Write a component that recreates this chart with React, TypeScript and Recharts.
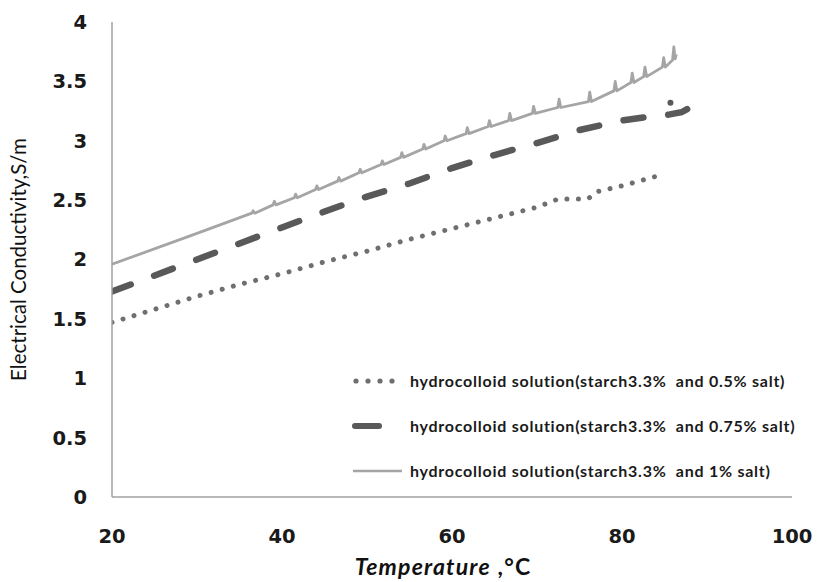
import { LineChart, Line, XAxis, YAxis } from 'recharts'

// [temperature °C, conductivity S/m]
const saltHalfPct: [number, number][] = [
  [20, 1.47], [25, 1.58], [30, 1.69], [35, 1.79], [40, 1.88], [45, 1.98],
  [50, 2.07], [55, 2.17], [60, 2.26], [65, 2.35], [70, 2.44], [72.5, 2.51],
  [74, 2.51], [76, 2.51], [77, 2.57], [80, 2.62], [84, 2.7],
]

const saltThreeQuarterPct: [number, number][] = [
  [20, 1.73], [30, 2.0], [40, 2.27], [46, 2.43], [50, 2.53], [55, 2.64],
  [60, 2.77], [65, 2.88], [70, 2.98], [75, 3.09], [80, 3.17], [84, 3.21],
  [85.5, 3.22], [87, 3.24], [88, 3.28], [89, 3.28],
]

// the lone stray point above the dashed series near 86 °C
const saltThreeQuarterStray: [number, number][] = [[85.7, 3.32]]

const saltOnePct: [number, number][] = [
  [20, 1.96], [30, 2.22],
  [36.45, 2.39], [36.6, 2.41], [36.8, 2.39],
  [38.95, 2.46], [39.1, 2.49], [39.3, 2.46],
  [41.45, 2.52], [41.6, 2.55], [41.8, 2.52],
  [43.95, 2.59], [44.1, 2.62], [44.3, 2.59],
  [46.55, 2.66], [46.7, 2.69], [46.9, 2.66],
  [49.05, 2.73], [49.2, 2.76], [49.4, 2.73],
  [51.65, 2.8], [51.8, 2.83], [52.0, 2.8],
  [53.95, 2.86], [54.1, 2.9], [54.3, 2.86],
  [56.55, 2.93], [56.7, 2.97], [56.9, 2.93],
  [59.05, 3.0], [59.2, 3.04], [59.4, 3.0],
  [61.65, 3.06], [61.8, 3.11], [62.0, 3.06],
  [64.25, 3.12], [64.4, 3.17], [64.6, 3.12],
  [66.65, 3.17], [66.8, 3.23], [67.0, 3.17],
  [69.45, 3.23], [69.6, 3.29], [69.8, 3.23],
  [72.45, 3.28], [72.6, 3.35], [72.8, 3.28],
  [76.05, 3.33], [76.2, 3.41], [76.4, 3.33],
  [79.05, 3.42], [79.2, 3.5], [79.4, 3.42],
  [81.05, 3.49], [81.2, 3.57], [81.4, 3.49],
  [82.55, 3.54], [82.7, 3.62], [82.9, 3.54],
  [84.75, 3.62], [84.9, 3.7], [85.1, 3.62],
  [85.95, 3.68], [86.1, 3.79], [86.25, 3.69],
  [86.4, 3.73],
]

const xTicks = [20, 40, 60, 80, 100]
const yTicks = [0, 0.5, 1, 1.5, 2, 2.5, 3, 3.5, 4]

const legendLabels = [
  'hydrocolloid solution(starch3.3%  and 0.5% salt)',
  'hydrocolloid solution(starch3.3%  and 0.75% salt)',
  'hydrocolloid solution(starch3.3%  and 1% salt)',
]

const toRows = (pts: [number, number][]) => pts.map(([t, v]) => ({ t, v }))

const tickStyle = { fontFamily: '"DejaVu Sans", sans-serif', fontWeight: 700, fontSize: 19.5, fill: '#1a1a1a' }
const legendFont = {
  fontFamily: 'Lato, sans-serif',
  fontWeight: 700,
  fontSize: 16,
  letterSpacing: 0.75,
  color: '#1a1a1a',
}

function ChartLegend() {
  const rowStyle = { display: 'flex', alignItems: 'center', height: 45, whiteSpace: 'pre' as const }
  return (
    <div style={{ position: 'absolute', left: 350, top: 358, ...legendFont }}>
      <div style={rowStyle}>
        <svg width={60} height={10}>
          {[6, 18, 30, 42].map((cx) => (
            <circle key={cx} cx={cx} cy={5} r={2.6} fill="#6f6f6f" />
          ))}
        </svg>
        <span>{legendLabels[0]}</span>
      </div>
      <div style={rowStyle}>
        <svg width={60} height={10}>
          <line x1={5} y1={5} x2={29} y2={5} stroke="#595959" strokeWidth={6} strokeLinecap="round" />
        </svg>
        <span>{legendLabels[1]}</span>
      </div>
      <div style={rowStyle}>
        <svg width={60} height={10}>
          <line x1={3} y1={5} x2={52} y2={5} stroke="#a5a5a5" strokeWidth={2.5} />
        </svg>
        <span>{legendLabels[2]}</span>
      </div>
    </div>
  )
}

function XTitle() {
  return (
    <text
      x={443}
      y={575}
      textAnchor="middle"
      fill="#111"
      style={{ fontFamily: 'Lato, sans-serif', fontWeight: 700, fontSize: 23, letterSpacing: 1.2 }}
    >
      <tspan fontStyle="italic">Temperature</tspan>
      <tspan> ,°C</tspan>
    </text>
  )
}

export default function App() {
  return (
    <div style={{ position: 'absolute', left: 0, top: 0, width: 817, height: 582, background: '#fff' }}>
      <LineChart width={817} height={582} margin={{ top: 22, right: 25, bottom: 25, left: 0 }}>
        <XAxis
          type="number"
          dataKey="t"
          domain={[20, 100]}
          ticks={xTicks}
          allowDataOverflow
          height={60}
          tickLine={false}
          tickSize={0}
          tickMargin={32}
          stroke="#a0a0a0"
          strokeWidth={1.5}
          tick={tickStyle}
          label={<XTitle />}
        />
        <YAxis
          type="number"
          domain={[0, 4]}
          ticks={yTicks}
          width={112}
          tickLine={false}
          tickSize={0}
          tickMargin={25}
          stroke="#a0a0a0"
          strokeWidth={1.5}
          tick={tickStyle}
          label={{
            value: 'Electrical Conductivity,S/m',
            angle: -90,
            position: 'insideLeft',
            dx: 14,
            style: { fontFamily: 'Lato, sans-serif', fontSize: 20.5, fill: '#111', textAnchor: 'middle' },
          }}
        />
        <Line
          data={toRows(saltHalfPct)}
          dataKey="v"
          type="linear"
          stroke="#6f6f6f"
          strokeWidth={5}
          strokeDasharray="0.01 11.5"
          strokeLinecap="round"
          dot={false}
          isAnimationActive={false}
        />
        <Line
          data={toRows(saltThreeQuarterPct)}
          dataKey="v"
          type="linear"
          stroke="#595959"
          strokeWidth={6.5}
          strokeDasharray="20 25"
          strokeLinecap="round"
          dot={false}
          isAnimationActive={false}
        />
        <Line
          data={toRows(saltThreeQuarterStray)}
          dataKey="v"
          stroke="none"
          dot={{ r: 3, fill: '#595959', stroke: 'none' }}
          isAnimationActive={false}
        />
        <Line
          data={toRows(saltOnePct)}
          dataKey="v"
          type="linear"
          stroke="#a5a5a5"
          strokeWidth={2.8}
          strokeLinejoin="round"
          dot={false}
          isAnimationActive={false}
        />
      </LineChart>
      <ChartLegend />
    </div>
  )
}
